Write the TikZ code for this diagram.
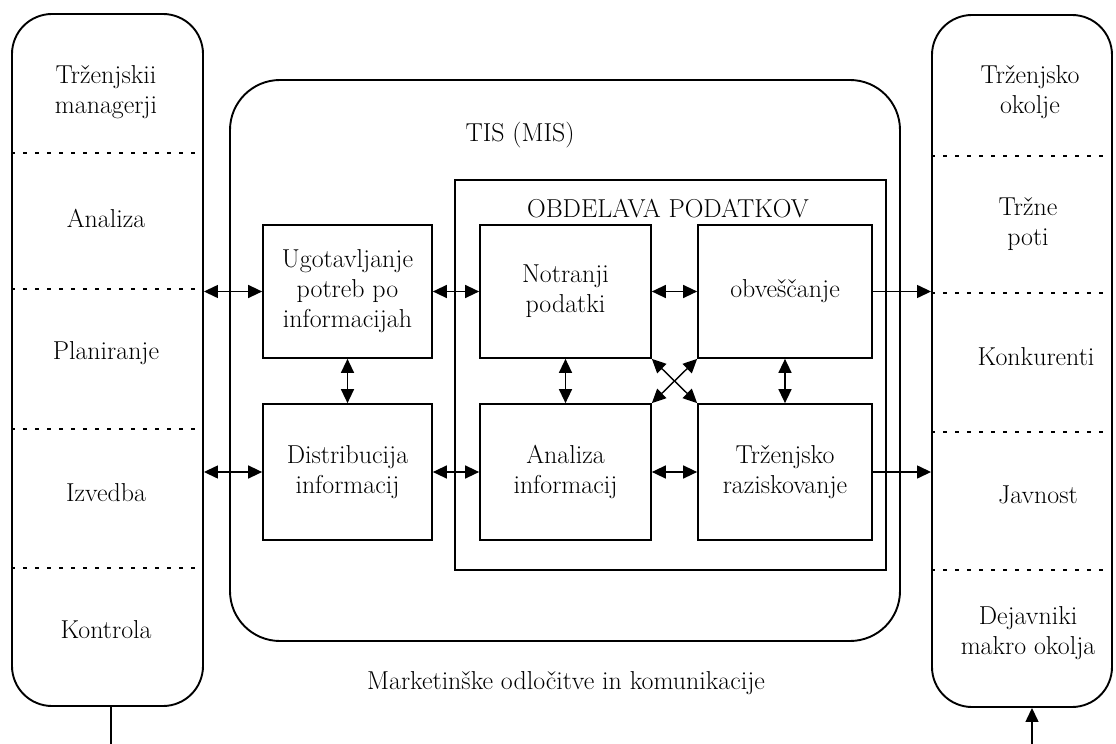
\documentclass[tikz,border=0pt]{standalone}
\usepackage{fontspec}
\usetikzlibrary{arrows.meta}
\begin{document}
\begin{tikzpicture}[x=1bp,y=-1bp,
  lbl/.style={font=\fontsize{26}{30}\selectfont, align=center, inner sep=0pt},
  panel/.style={draw, line width=1.9bp, rounded corners=40bp, inner sep=0pt},
  boxx/.style={draw, line width=1.7bp, inner sep=0pt, align=center, font=\fontsize{26}{30}\selectfont},
  dots/.style={line width=1.5bp, dash pattern=on 3.5bp off 8.5bp},
  dbl/.style={line width=1.4bp, {Triangle[length=14bp,width=13bp]}-{Triangle[length=14bp,width=13bp]}},
  sgl/.style={line width=1.4bp, -{Triangle[length=14bp,width=13bp]}},
  plain/.style={line width=1.4bp}
]
\useasboundingbox (0,0) rectangle (1116,744);

% side panels
\node[panel, minimum width=191bp, minimum height=692bp] (L) at (107.5,360) {};
\node[panel, minimum width=180bp, minimum height=692bp] (R) at (1022,361) {};
% TIS panel
\node[panel, rounded corners=50bp, minimum width=670bp, minimum height=561bp] (T) at (565,360.5) {};
% OBDELAVA box
\node[draw, line width=1.7bp, inner sep=0pt, minimum width=431bp, minimum height=390bp] (O) at (670.5,375) {};

% dotted separators
\foreach \yy in {153,289,429,568}
  \draw[dots] (L.west |- 0,\yy) -- (L.east |- 0,\yy);
\foreach \yy in {156,293,432,570}
  \draw[dots] (R.west |- 0,\yy) -- (R.east |- 0,\yy);

% panel labels
\node[lbl] (l1) at (106,92) {Trženjskii\\managerji};
\node[lbl] (l2) at (106,218) {Analiza};
\node[lbl] (l3) at (106,353) {Planiranje};
\node[lbl] (l4) at (106,493) {Izvedba};
\node[lbl] (l5) at (106,630) {Kontrola};

\node[lbl] (r1) at (1030,92) {Trženjsko\\okolje};
\node[lbl] (r2) at (1028,224) {Tržne\\poti};
\node[lbl] (r3) at (1036,357) {Konkurenti};
\node[lbl] (r4) at (1038,495) {Javnost};
\node[lbl] (r5) at (1028,633) {Dejavniki\\makro okolja};

\node[lbl] (tis) at (520,135) {TIS (MIS)};
\node[lbl] (obd) at (668,209) {OBDELAVA PODATKOV};
\node[lbl] (mk) at (566,683) {Marketinške odločitve in komunikacije};

% inner boxes
\node[boxx, minimum width=169bp, minimum height=133bp] (U) at (347.5,291.5) {Ugotavljanje\\potreb po\\informacijah};
\node[boxx, minimum width=169bp, minimum height=136bp] (D) at (347.5,472) {Distribucija\\informacij};
\node[boxx, minimum width=171bp, minimum height=133bp] (N) at (565.5,291.5) {Notranji\\podatki};
\node[boxx, minimum width=171bp, minimum height=136bp] (A) at (565.5,472) {Analiza\\informacij};
\node[boxx, minimum width=174bp, minimum height=133bp] (B) at (785,291.5) {obveščanje};
\node[boxx, minimum width=174bp, minimum height=136bp] (Z) at (785,472) {Trženjsko\\raziskovanje};

% connectors
\draw[dbl] (L.east |- U.west) -- (U.west);
\draw[dbl] (L.east |- D.west) -- (D.west);
\draw[dbl] (U.east) -- (N.west);
\draw[dbl] (D.east) -- (A.west);
\draw[dbl] (N.east) -- (B.west);
\draw[dbl] (A.east) -- (Z.west);
\draw[dbl] (U.south) -- (D.north);
\draw[dbl] (N.south) -- (A.north);
\draw[dbl] (B.south) -- (Z.north);
\draw[dbl] (N.south east) -- (Z.north west);
\draw[dbl] (B.south west) -- (A.north east);
\draw[sgl] (B.east) -- (R.west |- B.east);
\draw[sgl] (Z.east) -- (R.west |- Z.east);

\coordinate (lb) at (111,744);
\coordinate (rb) at (1032,744);
\draw[plain] (lb |- L.south) -- (lb);
\draw[sgl] (rb) -- (rb |- R.south);
\end{tikzpicture}
\end{document}
